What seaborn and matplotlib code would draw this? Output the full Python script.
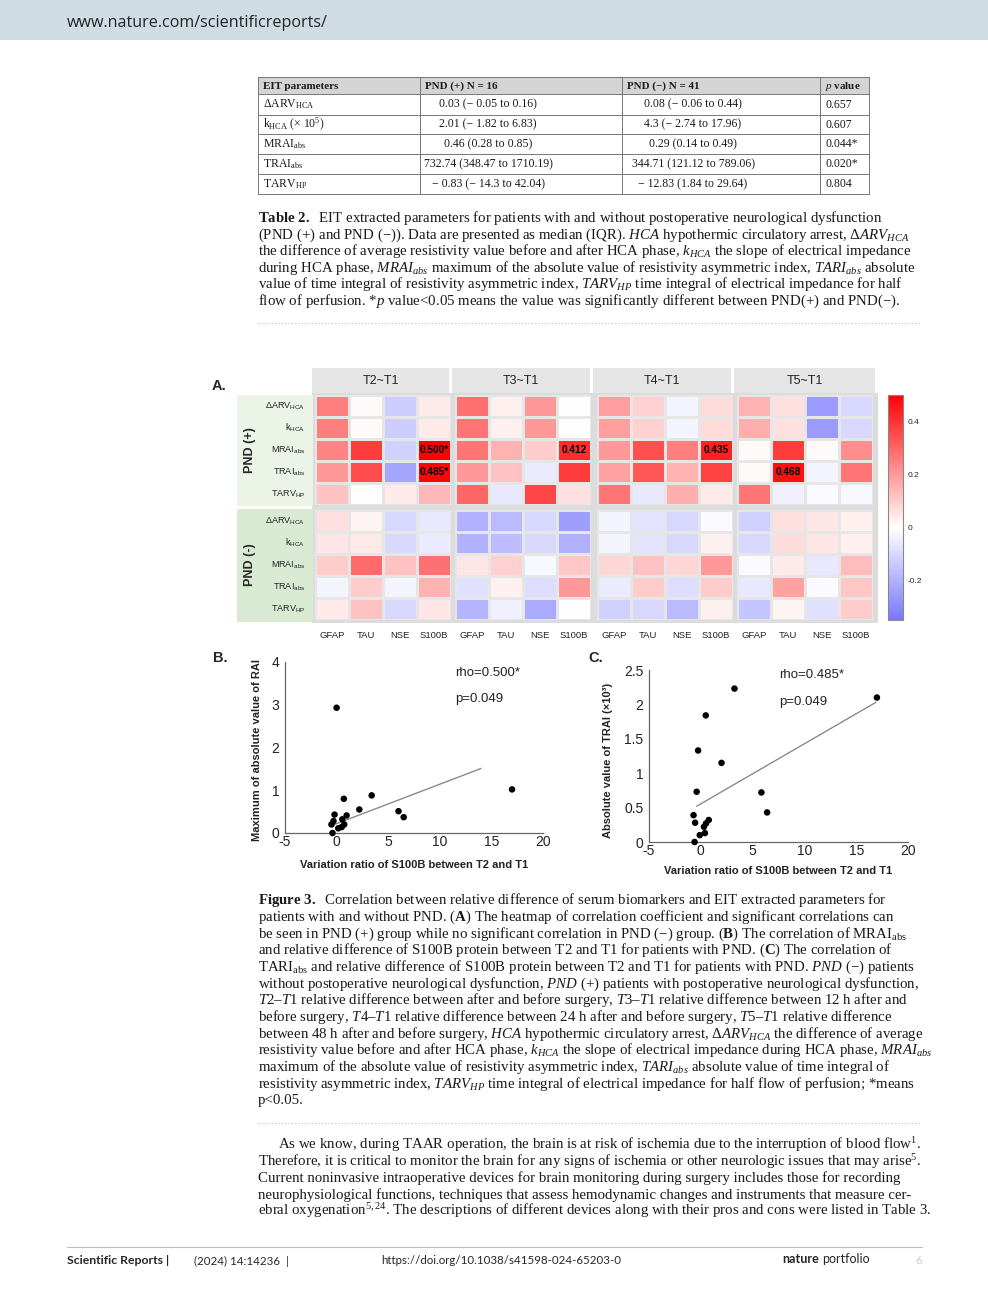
import numpy as np
import pandas as pd
import matplotlib
matplotlib.use("Agg")
import matplotlib.pyplot as plt
from matplotlib.colors import LinearSegmentedColormap, TwoSlopeNorm
from matplotlib.patches import Rectangle
import seaborn as sns

sns.set_theme(style="white")
plt.rcParams['font.family'] = ['Liberation Sans', 'DejaVu Sans']
plt.rcParams['mathtext.fontset'] = 'custom'
plt.rcParams['mathtext.rm'] = 'Liberation Serif'
plt.rcParams['mathtext.it'] = 'Liberation Serif:italic'
plt.rcParams['mathtext.bf'] = 'Liberation Serif:bold'
plt.rcParams['mathtext.sf'] = 'Liberation Sans'

# ---------------- data ----------------
# Table 2
table_header = ["EIT parameters", "PND (+) N = 16", "PND (−) N = 41", r"$\mathit{p}$ value"]
table_params = [r"ΔARV$_{\mathrm{HCA}}$", r"k$_{\mathrm{HCA}}$ (× 10$^{5}$)", r"MRAI$_{\mathrm{abs}}$",
                r"TRAI$_{\mathrm{abs}}$", r"TARV$_{\mathrm{HP}}$"]
table_pos = ["0.03 (− 0.05 to 0.16)", "2.01 (− 1.82 to 6.83)", "0.46 (0.28 to 0.85)",
             "732.74 (348.47 to 1710.19)", "− 0.83 (− 14.3 to 42.04)"]
table_neg = ["0.08 (− 0.06 to 0.44)", "4.3 (− 2.74 to 17.96)", "0.29 (0.14 to 0.49)",
             "344.71 (121.12 to 789.06)", "− 12.83 (1.84 to 29.64)"]
table_p = ["0.657", "0.607", "0.044*", "0.020*", "0.804"]

# Heatmap (Spearman rho, rows = EIT params, cols = biomarkers)
times = ["T2~T1", "T3~T1", "T4~T1", "T5~T1"]
markers = ["GFAP", "TAU", "NSE", "S100B"]
params = [r"ΔARV$_{\mathsf{HCA}}$", r"k$_{\mathsf{HCA}}$", r"MRAI$_{\mathsf{abs}}$",
          r"TRAI$_{\mathsf{abs}}$", r"TARV$_{\mathsf{HP}}$"]

pos_t2 = [[0.25, 0.01, -0.13, 0.04], [0.25, 0.01, -0.13, 0.04], [0.24, 0.38, -0.12, 0.500],
          [0.20, 0.35, -0.23, 0.485], [0.12, 0.00, 0.04, 0.14]]
pos_t3 = [[0.28, 0.03, 0.20, 0.00], [0.27, 0.03, 0.20, 0.00], [0.27, 0.15, 0.10, 0.412],
          [0.20, 0.12, -0.05, 0.38], [0.30, -0.06, 0.36, 0.06]]
pos_t4 = [[0.19, 0.09, -0.03, 0.07], [0.19, 0.09, -0.03, 0.07], [0.20, 0.34, 0.25, 0.435],
          [0.18, 0.33, 0.15, 0.37], [0.27, -0.06, 0.16, 0.04]]
pos_t5 = [[0.15, 0.06, -0.26, -0.10], [0.16, 0.06, -0.26, -0.10], [0.01, 0.38, 0.01, 0.22],
          [0.01, 0.468, -0.03, 0.27], [0.27, -0.04, -0.01, -0.02]]

neg_t2 = [[0.06, 0.02, -0.10, -0.06], [0.05, 0.04, -0.10, -0.05], [0.10, 0.29, 0.12, 0.28],
          [-0.03, 0.10, -0.03, 0.15], [0.04, 0.12, -0.10, 0.05]]
neg_t3 = [[-0.20, -0.18, -0.10, -0.25], [-0.20, -0.17, -0.10, -0.20], [0.05, 0.09, -0.02, 0.11],
          [-0.08, 0.03, -0.09, 0.20], [-0.19, -0.04, -0.22, 0.00]]
neg_t4 = [[-0.03, -0.07, -0.10, -0.01], [-0.03, -0.07, -0.10, 0.03], [0.08, 0.12, 0.08, 0.20],
          [-0.05, 0.10, -0.09, 0.10], [-0.12, -0.10, -0.18, 0.03]]
neg_t5 = [[-0.12, 0.06, 0.05, 0.03], [-0.10, 0.07, 0.05, 0.03], [-0.01, 0.04, -0.06, 0.13],
          [-0.06, 0.18, -0.01, 0.11], [-0.15, 0.02, -0.08, 0.10]]

# significant / labelled cells in PND(+): (time, row, col, text)
sig_cells = [(0, 2, 3, "0.500*"), (0, 3, 3, "0.485*"), (1, 2, 3, "0.412"),
             (2, 2, 3, "0.435"), (3, 3, 1, "0.468")]

# Scatter B / C
s100b_b = [0.0, -0.5, -0.3, -0.2, -0.4, 0.7, 3.4, 2.2, 6.0, 6.5, 17.0, 0.97, 0.55, 0.16, 0.5, 0.74]
mrai_b = [2.93, 0.20, 0.28, 0.43, 0.0, 0.80, 0.88, 0.55, 0.51, 0.37, 1.02, 0.41, 0.32, 0.11, 0.14, 0.20]
fit_b_x = [-0.2, 14.0]
fit_b_y = [0.20, 1.51]

s100b_c = [-0.7, -0.55, -0.4, -0.26, 0.48, 3.25, 2.0, 5.85, 6.4, 17.0, -0.6, -0.1, 0.4, 0.3, 0.5, 0.77]
trai_c = [0.39, 0.28, 0.73, 1.33, 1.84, 2.23, 1.15, 0.72, 0.43, 2.10, 0.0, 0.10, 0.13, 0.22, 0.27, 0.32]
fit_c_x = [-0.4, 16.9]
fit_c_y = [0.52, 2.03]

x_ticks = [-5, 0, 5, 10, 15, 20]
x_ticklabels = ["-5", "0", "5", "10", "15", "20"]

# ---------------- page ----------------
W, H = 988, 1294
fig = plt.figure(figsize=(W / 100, H / 100), dpi=100)
fig.patch.set_facecolor('white')

ax_bg = fig.add_axes([0, 0, 1, 1])
ax_bg.set_xlim(0, W)
ax_bg.set_ylim(H, 0)
ax_bg.axis('off')


def px_axes(x0, y0, x1, y1):
    return fig.add_axes([x0 / W, 1 - y1 / H, (x1 - x0) / W, (y1 - y0) / H])


def serif(x, y, s, size=10.7, **kw):
    ax_bg.text(x, y, s, fontsize=size, family='Liberation Serif', va='baseline', color='#1a1a1a', **kw)


# header band
ax_bg.add_patch(Rectangle((0, 0), W, 40, color='#cfdce4', lw=0))
ax_bg.text(67, 23, "www.nature.com/scientificreports/", fontsize=11.6, family='Open Sans',
           va='center', color='#222222')

# ---- Table 2 ----
col_edges = [258, 420, 622, 820, 869]
row_edges = [77, 94, 115, 134, 154, 174, 194]
ax_bg.add_patch(Rectangle((258, 77), 611, 17, color='#d4d4d4', lw=0))
for y in row_edges:
    ax_bg.plot([258, 869], [y, y], color='#777777', lw=0.7)
for x in col_edges:
    ax_bg.plot([x, x], [77, 194], color='#777777', lw=0.7)
hx = [263, 425, 627, 825]
for x, s in zip(hx, table_header):
    serif(x, 89, s, size=7.9, fontweight='bold')
for i in range(len(table_params)):
    yb = (row_edges[i + 1] + row_edges[i + 2]) / 2 + 3
    serif(263, yb, table_params[i], size=8.5)
    serif(488, yb, table_pos[i], size=8.5, ha='center')
    serif(693, yb, table_neg[i], size=8.5, ha='center')
    serif(825, yb, table_p[i], size=8.5)

t2_caption = [
    r"$\mathbf{Table\ 2.}$  EIT extracted parameters for patients with and without postoperative neurological dysfunction",
    r"(PND (+) and PND (−)). Data are presented as median (IQR). $\mathit{HCA}$ hypothermic circulatory arrest, $\mathit{ΔARV}_{\mathit{HCA}}$",
    r"the difference of average resistivity value before and after HCA phase, $\mathit{k}_{\mathit{HCA}}$ the slope of electrical impedance",
    r"during HCA phase, $\mathit{MRAI}_{\mathit{abs}}$ maximum of the absolute value of resistivity asymmetric index, $\mathit{TARI}_{\mathit{abs}}$ absolute",
    r"value of time integral of resistivity asymmetric index, $\mathit{TARV}_{\mathit{HP}}$ time integral of electrical impedance for half",
    r"flow of perfusion. *$\mathit{p}$ value<0.05 means the value was significantly different between PND(+) and PND(−).",
]
for i, line in enumerate(t2_caption):
    serif(258, 222 + i * 16.6, line)
ax_bg.plot([258, 921], [323, 323], color='#bbbbbb', lw=0.8, ls=(0, (1, 2)))

# ---- Figure 3 A: heatmaps ----
cmap = LinearSegmentedColormap.from_list('rho', ['#7878ff', '#ffffff', '#ff0000'])
norm = TwoSlopeNorm(vmin=-0.35, vcenter=0, vmax=0.5)

ax_bg.text(212, 386, "A.", fontsize=10.5, fontweight='bold', va='center')
ax_bg.add_patch(Rectangle((312, 393), 566, 230, color='#dcdcdc', lw=0))
head_x = [(312, 449), (452, 590), (593, 731), (734, 875)]
for (x0, x1), t in zip(head_x, times):
    ax_bg.add_patch(Rectangle((x0, 368), x1 - x0, 25, color='#e5e5e5', lw=0))
    ax_bg.text((x0 + x1) / 2, 381, t, fontsize=9, ha='center', va='center', color='#222222')
ax_bg.add_patch(Rectangle((237, 395), 76, 111, color='#ecf4e7', lw=0))
ax_bg.add_patch(Rectangle((237, 509), 76, 113, color='#d9ead3', lw=0))
ax_bg.text(250, 450, "PND (+)", fontsize=9, fontweight='bold', rotation=90, ha='center', va='center')
ax_bg.text(250, 565, "PND (-)", fontsize=9, fontweight='bold', rotation=90, ha='center', va='center')

pos_blocks = [pos_t2, pos_t3, pos_t4, pos_t5]
neg_blocks = [neg_t2, neg_t3, neg_t4, neg_t5]
cell_x0 = [315, 455, 597, 737]
mesh = None
for gi, (blocks, (y0, y1)) in enumerate([(pos_blocks, (395, 505)), (neg_blocks, (510, 620))]):
    for ti, block in enumerate(blocks):
        ax = px_axes(cell_x0[ti], y0, cell_x0[ti] + 136, y1)
        df = pd.DataFrame(block, index=params, columns=markers)
        annot = np.full(df.shape, "", dtype=object)
        if gi == 0:
            for t, r, c, s in sig_cells:
                if t == ti:
                    annot[r, c] = s
        sns.heatmap(df, ax=ax, cmap=cmap, norm=norm, cbar=False, linewidths=0.8,
                    linecolor='#e6e6e6', annot=annot, fmt='',
                    annot_kws={'color': 'black', 'fontsize': 7.3, 'fontweight': 'bold'},
                    xticklabels=markers if gi == 1 else False,
                    yticklabels=params if ti == 0 else False)
        ax.tick_params(left=False, bottom=False)
        if ti == 0:
            ax.tick_params(axis='y', pad=1)
            ax.set_yticklabels(params, rotation=0, fontsize=6.5, color='#222222')
        if gi == 1:
            ax.tick_params(axis='x', pad=2)
            ax.set_xticklabels(markers, rotation=0, fontsize=6.8, color='#222222')
        ax.set_xlabel("")
        ax.set_ylabel("")
        mesh = ax.collections[0]

cax = px_axes(888, 395, 903, 620)
cb = fig.colorbar(mesh, cax=cax)
cb.ax.set_yscale('linear')
cb.set_ticks([-0.2, 0, 0.2, 0.4])
cb.set_ticklabels(["-0.2", "0", "0.2", "0.4"])
cb.ax.tick_params(labelsize=6, direction='in', length=2, color='#666666', pad=3)
cb.outline.set_edgecolor('#888888')
cb.outline.set_linewidth(0.8)

# ---- Figure 3 B / C: scatter plots ----
def scatter_panel(rect, x, y, fx, fy, ylim, yticks, yticklabels, ylabel, rho, rho_xy, p_xy, lab_coords):
    ax = px_axes(*rect)
    sns.scatterplot(x=x, y=y, ax=ax, color='black', s=22, edgecolor='none', clip_on=False, zorder=3)
    sns.lineplot(x=fx, y=fy, ax=ax, color='#8a8a8a', lw=1)
    ax.set_xlim(-5, 20)
    ax.set_ylim(*ylim)
    ax.set_xticks(x_ticks)
    ax.set_xticklabels(x_ticklabels)
    ax.set_yticks(yticks)
    ax.set_yticklabels(yticklabels)
    sns.despine(ax=ax)
    for sp in ['left', 'bottom']:
        ax.spines[sp].set_color('#666666')
        ax.spines[sp].set_linewidth(0.9)
    ax.tick_params(direction='in', length=3, width=0.8, color='#666666', labelsize=10,
                   labelcolor='#222222')
    ax.tick_params(axis='x', pad=1.5)
    ax.tick_params(axis='y', pad=4)
    ax.set_xlabel("Variation ratio of S100B between T2 and T1", fontsize=8, fontweight='bold', color='#222222')
    ax.set_ylabel(ylabel, fontsize=8, fontweight='bold', color='#222222')
    ax.xaxis.set_label_coords(*lab_coords[0])
    ax.yaxis.set_label_coords(*lab_coords[1])
    ax.xaxis.label.set_va('center')
    ax.yaxis.label.set_va('center')
    ax.text(*rho_xy, rho, fontsize=9.5, va='center', color='#222222')
    ax.text(*p_xy, "p=0.049", fontsize=9.5, va='center', color='#222222')
    ax.grid(False)
    return ax


ax_bg.text(213, 658, "B.", fontsize=10.5, fontweight='bold', va='center')
scatter_panel((285, 662, 543, 833), s100b_b, mrai_b, fit_b_x, fit_b_y, (0, 4),
              [0, 1, 2, 3, 4], ["0", "1", "2", "3", "4"], "Maximum of absolute value of RAI",
              "rho=0.500*", (11.5, 3.74), (11.5, 3.13), ((0.5, -0.187), (-0.109, 0.485)))

ax_bg.text(588, 658, "C.", fontsize=10.5, fontweight='bold', va='center')
scatter_panel((649, 670, 908, 842), s100b_c, trai_c, fit_c_x, fit_c_y, (0, 2.5),
              [0, 0.5, 1, 1.5, 2, 2.5], ["0", "0.5", "1", "1.5", "2", "2.5"],
              "Absolute value of TRAI (×10³)",
              "rho=0.485*", (7.55, 2.43), (7.55, 2.03), ((0.498, -0.169), (-0.158, 0.477)))

# ---- Figure 3 caption ----
fig3_caption = [
    r"$\mathbf{Figure\ 3.}$  Correlation between relative difference of serum biomarkers and EIT extracted parameters for",
    r"patients with and without PND. ($\mathbf{A}$) The heatmap of correlation coefficient and significant correlations can",
    r"be seen in PND (+) group while no significant correlation in PND (−) group. ($\mathbf{B}$) The correlation of MRAI$_{\mathrm{abs}}$",
    r"and relative difference of S100B protein between T2 and T1 for patients with PND. ($\mathbf{C}$) The correlation of",
    r"TARI$_{\mathrm{abs}}$ and relative difference of S100B protein between T2 and T1 for patients with PND. $\mathit{PND\ (−)}$ patients",
    r"without postoperative neurological dysfunction, $\mathit{PND\ (+)}$ patients with postoperative neurological dysfunction,",
    r"$\mathit{T2–T1}$ relative difference between after and before surgery, $\mathit{T3–T1}$ relative difference between 12 h after and",
    r"before surgery, $\mathit{T4–T1}$ relative difference between 24 h after and before surgery, $\mathit{T5–T1}$ relative difference",
    r"between 48 h after and before surgery, $\mathit{HCA}$ hypothermic circulatory arrest, $\mathit{ΔARV}_{\mathit{HCA}}$ the difference of average",
    r"resistivity value before and after HCA phase, $\mathit{k}_{\mathit{HCA}}$ the slope of electrical impedance during HCA phase, $\mathit{MRAI}_{\mathit{abs}}$",
    r"maximum of the absolute value of resistivity asymmetric index, $\mathit{TARI}_{\mathit{abs}}$ absolute value of time integral of",
    r"resistivity asymmetric index, $\mathit{TARV}_{\mathit{HP}}$ time integral of electrical impedance for half flow of perfusion; *means",
    r"p<0.05.",
]
for i, line in enumerate(fig3_caption):
    serif(258, 904 + i * 16.7, line)
ax_bg.plot([258, 921], [1123, 1123], color='#bbbbbb', lw=0.8, ls=(0, (1, 2)))

# ---- body paragraph ----
para = [
    r"As we know, during TAAR operation, the brain is at risk of ischemia due to the interruption of blood flow$^{1}$.",
    r"Therefore, it is critical to monitor the brain for any signs of ischemia or other neurologic issues that may arise$^{5}$.",
    "Current noninvasive intraoperative devices for brain monitoring during surgery includes those for recording",
    "neurophysiological functions, techniques that assess hemodynamic changes and instruments that measure cer-",
    r"ebral oxygenation$^{5,24}$. The descriptions of different devices along with their pros and cons were listed in Table 3.",
]
for i, line in enumerate(para):
    serif(278 if i == 0 else 258, 1149 + i * 16.6, line)

# ---- footer ----
ax_bg.plot([67, 922], [1247, 1247], color='#bbbbbb', lw=0.8)
ax_bg.text(67, 1261, "Scientific Reports |", fontsize=8.8, fontweight='bold', family='Lato', va='center')
ax_bg.text(194, 1261, "(2024) 14:14236  |", fontsize=8.3, family='Lato', va='center')
ax_bg.text(381, 1261, "https://doi.org/10.1038/s41598-024-65203-0", fontsize=8.3, family='Lato', va='center')
ax_bg.text(782, 1259, "nature", fontsize=9, fontweight='bold', family='Lato', va='center')
ax_bg.text(822, 1259, "portfolio", fontsize=9, family='Lato', va='center')
ax_bg.text(915, 1261, "6", fontsize=8.3, family='Lato', va='center', color='#cccccc')

fig.savefig("out.png", dpi=100)
